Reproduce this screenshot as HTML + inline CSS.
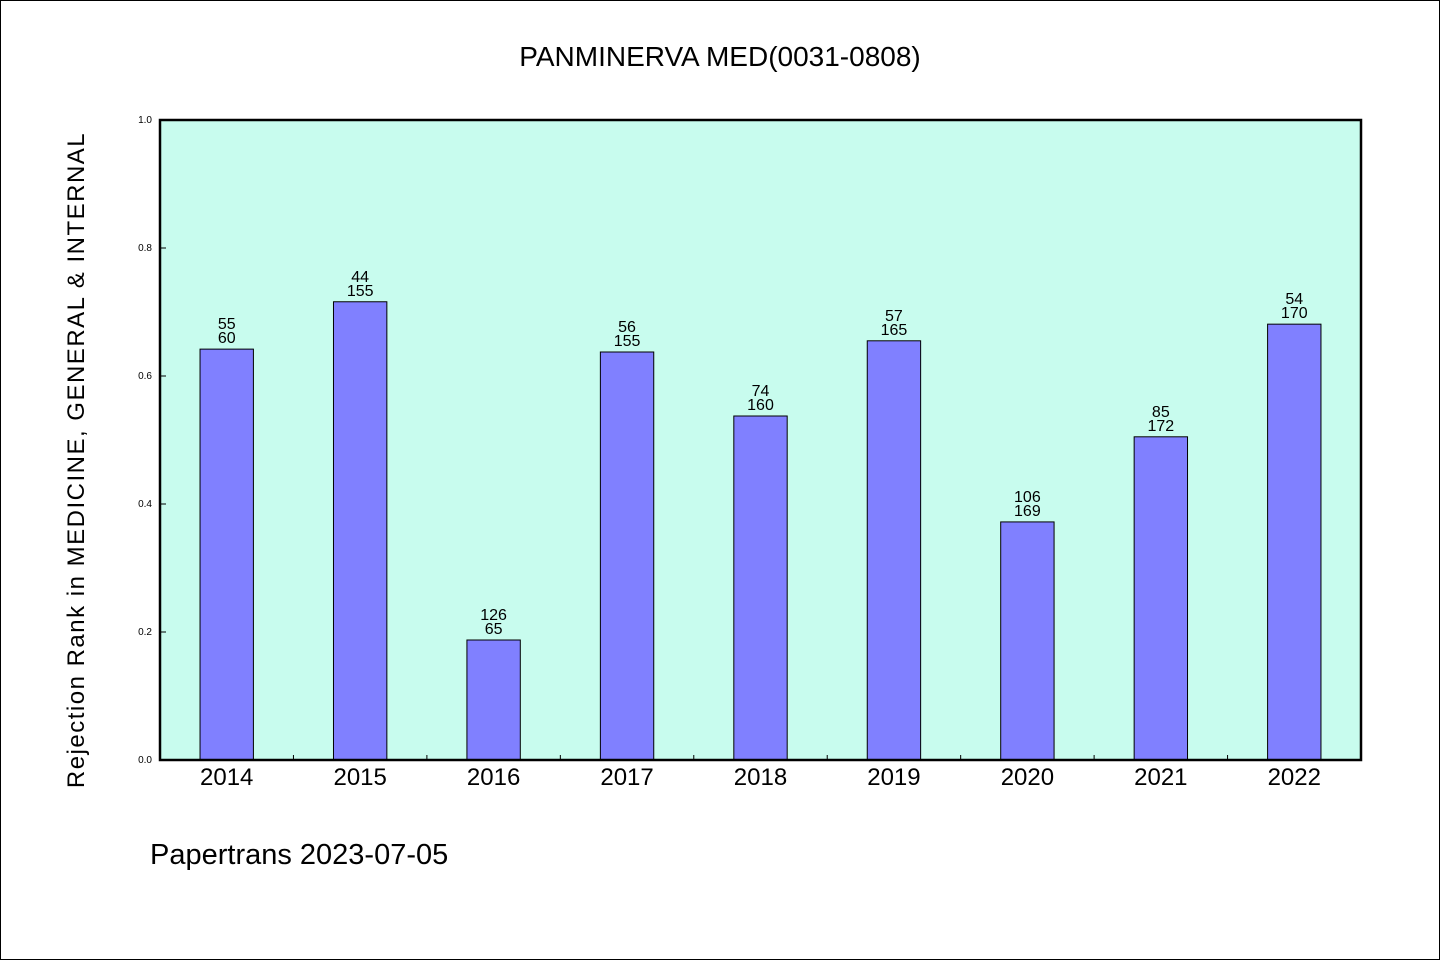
<!DOCTYPE html>
<html><head><meta charset="utf-8"><style>
body{margin:0;background:#fff;}
svg{display:block;}
text{font-family:"Liberation Sans","Noto Sans CJK SC",sans-serif;fill:#000;}
</style></head><body>
<svg id="chart" width="1440" height="960">
<rect x="0.5" y="0.5" width="1439" height="959" fill="#fff" stroke="#000"/>
<text x="720" y="66" text-anchor="middle" font-size="28">PANMINERVA MED(0031-0808)</text>
<rect x="160" y="120" width="1201" height="640" fill="#c8fcee"/>
<g id="bars"></g>
<rect x="160" y="120" width="1201" height="640" fill="none" stroke="#000" stroke-width="2.5"/>
<text transform="translate(84,460) rotate(-90)" text-anchor="middle" font-size="24" letter-spacing="1.5">Rejection Rank in MEDICINE, GENERAL &amp; INTERNAL</text>
<text x="150" y="864" font-size="29">Papertrans 2023-07-05</text>
</svg>
<script>
const categories=["2014","2015","2016","2017","2018","2019","2020","2021","2022"];
const values=[0.642,0.716,0.1875,0.6375,0.5375,0.655,0.372,0.505,0.681];
const topLabels=["55","44","126","56","74","57","106","85","54"];
const bottomLabels=["60","155","65","155","160","165","169","172","170"];
const yTicks=[0,0.2,0.4,0.6,0.8,1.0];
const X0=160,X1=1361,Y0=760,Y1=120;
const slot=(X1-X0)/categories.length;
const xC=i=>X0+slot*(i+0.5);
const y=v=>Y0-(Y0-Y1)*v;
const ns="http://www.w3.org/2000/svg";
const g=document.getElementById('bars');
function mk(t,a){const e=document.createElementNS(ns,t);for(const k in a)e.setAttribute(k,a[k]);g.appendChild(e);return e;}
const bw=slot*0.4;
categories.forEach((c,i)=>{
  const r=mk('rect',{x:xC(i)-bw/2,y:y(values[i]),width:bw,height:Y0-y(values[i]),fill:'#8080ff',stroke:'#000','stroke-width':1});
  
  
  const t1=mk('text',{x:xC(i),y:y(values[i])-20,'text-anchor':'middle','font-size':16});
  t1.textContent=topLabels[i];
  
  
  const t2=mk('text',{x:xC(i),y:y(values[i])-6,'text-anchor':'middle','font-size':16});
  t2.textContent=bottomLabels[i];
  
  
  const xl=mk('text',{x:xC(i),y:Y0+25,'text-anchor':'middle','font-size':24});
  xl.textContent=c;
  
  
  if(i>0){const tk=mk('line',{x1:X0+slot*i,x2:X0+slot*i,y1:Y0,y2:Y0-5,stroke:'#000'});
  
  }
});
yTicks.forEach(v=>{
  const tk=mk('line',{x1:X0,x2:X0+6,y1:y(v),y2:y(v),stroke:'#000'});
  
  
  const t=mk('text',{x:X0-8,y:y(v)+3,'text-anchor':'end','font-size':10});
  t.textContent=v.toFixed(1);
  
  
});
</script>
</body></html>
